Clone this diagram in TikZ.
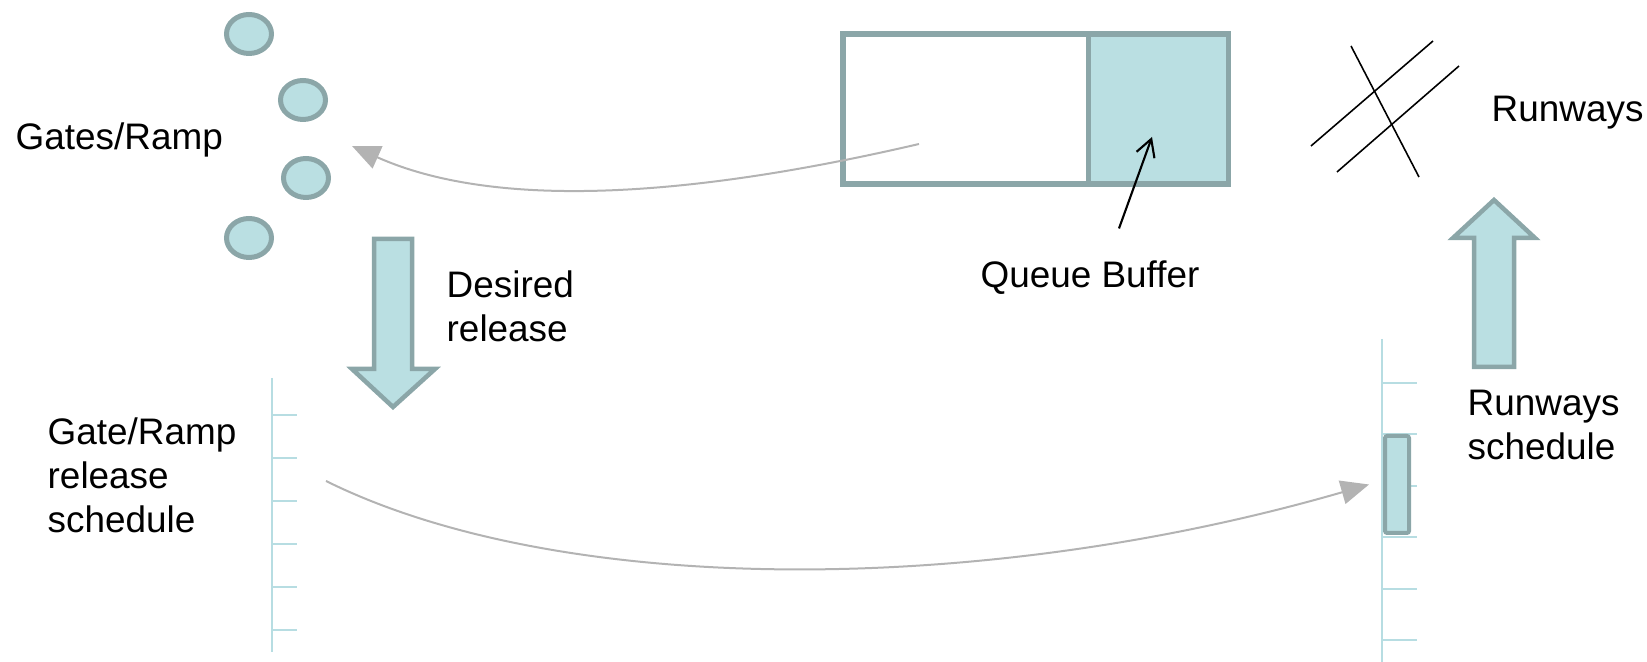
\documentclass[tikz,border=0pt]{standalone}
\usepackage{fontspec}
\setmainfont{Liberation Sans}
\usetikzlibrary{arrows.meta, positioning, shapes.geometric}

\definecolor{tealfill}{HTML}{BADFE2}
\definecolor{tealline}{HTML}{8BA6A8}
\definecolor{tickline}{HTML}{B7DDE2}
\definecolor{flowgray}{HTML}{B3B3B3}

\begin{document}
\begin{tikzpicture}[
  font=\fontsize{10.5}{12.5}\selectfont,
  gate/.style={draw=tealline, fill=tealfill, ellipse, line width=0.05cm, minimum width=0.45cm, minimum height=0.39cm, inner sep=0},
  qcell/.style={draw=tealline, rectangle, line width=0.055cm, minimum height=1.50cm, inner sep=0, outer sep=0},
  bigarrow/.style={draw=tealline, fill=tealfill, line width=0.045cm},
  slot/.style={draw=tealline, fill=tealfill, rectangle, rounded corners=0.6pt, line width=0.04cm, minimum width=0.24cm, minimum height=0.97cm, inner sep=0},
  timeline/.style={draw=tickline, line width=0.02cm},
  flow/.style={-{Triangle[length=0.28cm, width=0.24cm]}, draw=flowgray, line width=0.02cm},
  ptr/.style={-{Straight Barb[length=0.17cm, width=0.19cm]}, line width=0.6pt},
  txt/.style={inner sep=0, align=left}
]
\useasboundingbox (0,0) rectangle (16.47,-6.62);

\node[gate] (g1) at (2.49,-0.34) {};
\node[gate] (g2) at (3.03,-1.00) {};
\node[gate] (g3) at (3.06,-1.78) {};
\node[gate] (g4) at (2.49,-2.38) {};
\node[txt, anchor=west] (gates) at (0.15,-1.40) {Gates/Ramp};

\node[qcell, minimum width=2.455cm] (qfree) at (9.6575,-1.09) {};
\node[qcell, fill=tealfill, minimum width=1.40cm, right=0pt of qfree] (qbuf) {};
\node[txt] (qlabel) at (10.90,-2.78) {Queue Buffer};
\coordinate (bufpt) at (11.52,-1.37);
\draw[ptr] ([shift={(0.29,0.32)}]qlabel.north) -- (bufpt);

\draw[line width=0.45pt] (13.11,-1.46) -- (14.33,-0.41);
\draw[line width=0.45pt] (13.37,-1.72) -- (14.59,-0.66);
\draw[line width=0.45pt] (13.51,-0.46) -- (14.19,-1.77);
\node[txt, anchor=west] (rwy) at (14.91,-1.13) {Runways};

\draw[bigarrow] (3.74,-2.39) -- (4.12,-2.39) -- (4.12,-3.69) -- (4.35,-3.69)
  -- (3.93,-4.07) -- (3.52,-3.69) -- (3.74,-3.69) -- cycle;
\node[txt, anchor=west] (desired) at (4.46,-3.06) {Desired\\release};

\draw[bigarrow] (14.74,-3.67) -- (15.14,-3.67) -- (15.14,-2.38) -- (15.35,-2.38)
  -- (14.94,-2.00) -- (14.53,-2.38) -- (14.74,-2.38) -- cycle;
\node[txt, anchor=west] (rsched) at (14.67,-4.25) {Runways\\schedule};

\coordinate (gtop) at (2.72,-3.78);
\coordinate (gbot) at (2.72,-6.52);
\draw[timeline] (gtop) -- (gbot);
\foreach \y in {4.15,4.58,5.01,5.44,5.87,6.30}
  \draw[timeline] (2.72,-\y) -- (2.97,-\y);
\node[txt, anchor=west] (gsched) at (0.47,-4.75) {Gate/Ramp\\release\\schedule};

\coordinate (rtop) at (13.82,-3.39);
\coordinate (rbot) at (13.82,-6.62);
\draw[timeline] (rtop) -- (rbot);
\foreach \y in {3.83,4.34,4.86,5.37,5.89,6.40}
  \draw[timeline] (13.82,-\y) -- (14.17,-\y);
\node[slot] (slot) at (13.97,-4.845) {};

\coordinate (qstart) at (9.19,-1.44);
\coordinate (gin) at (3.52,-1.46);
\draw[flow] (qstart) .. controls (7.00,-1.95) and (5.00,-2.12) .. (gin);

\coordinate (relstart) at (3.26,-4.81);
\coordinate (relend) at ([xshift=-0.14cm]slot.west);
\draw[flow] (relstart) .. controls (5.60,-5.97) and (9.80,-5.97) .. (relend);
\end{tikzpicture}
\end{document}
